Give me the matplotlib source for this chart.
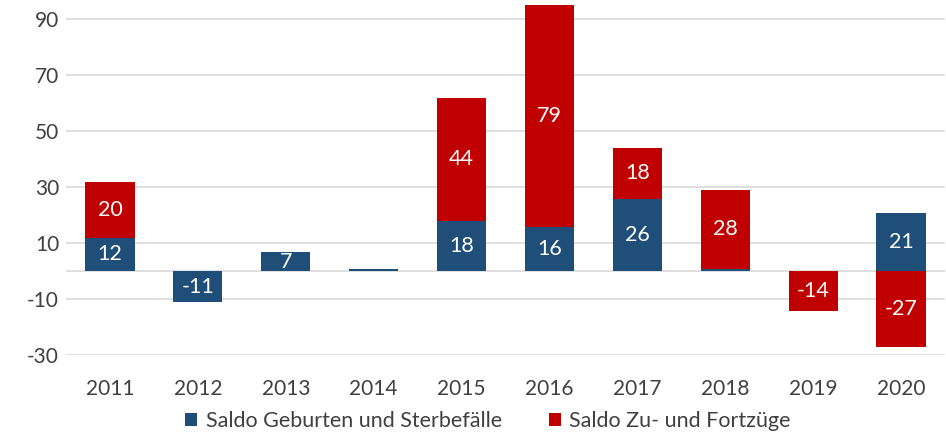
import matplotlib
matplotlib.use("Agg")
import matplotlib.pyplot as plt
import numpy as np

years = ['2011', '2012', '2013', '2014', '2015', '2016', '2017', '2018', '2019', '2020']
natural = [12, -11, 7, 1, 18, 16, 26, 1, 0, 21]        # Saldo Geburten und Sterbefälle
migration = [20, 0, 0, 0, 44, 79, 18, 28, -14, -27]    # Saldo Zu- und Fortzüge
yticks = [-30, -10, 10, 30, 50, 70, 90]

label_names = ['Saldo Geburten und Sterbefälle', 'Saldo Zu- und Fortzüge']
BLUE = '#1F4E79'
RED = '#C00000'
GRID = '#D9D9D9'
TXT = '#404040'

plt.rcParams['font.family'] = ['Lato', 'DejaVu Sans']

fig = plt.figure(figsize=(9.46, 4.34), dpi=100)
ax = fig.add_axes([66/946, 1 - 355.3/434, (945-66)/946, (355.3-2.5)/434])

x = np.arange(len(years))
nat = np.array(natural, dtype=float)
mig = np.array(migration, dtype=float)
mig_bottom = np.where(np.sign(mig) == np.sign(nat), nat, 0.0)

w = 0.56
ax.bar(x, nat, width=w, color=BLUE, label=label_names[0], zorder=3)
ax.bar(x, mig, width=w, bottom=mig_bottom, color=RED, label=label_names[1], zorder=3)

for i in range(len(years)):
    if abs(nat[i]) >= 5:
        ax.text(x[i], nat[i] / 2, f"{int(nat[i])}", ha='center', va='center',
                color='white', fontsize=15.5, zorder=4)
    if abs(mig[i]) >= 5:
        ax.text(x[i], mig_bottom[i] + mig[i] / 2, f"{int(mig[i])}", ha='center', va='center',
                color='white', fontsize=15.5, zorder=4)

ax.set_xlim(-0.5, len(years) - 0.5)
ax.set_ylim(-30, 96)
ax.set_yticks(yticks)
ax.set_yticklabels([str(t) for t in yticks])
ax.set_xticks(x)
ax.set_xticklabels(years)
ax.yaxis.grid(True, color=GRID, linewidth=1.2, zorder=0)
ax.axhline(0, color=GRID, linewidth=1.2, zorder=1)
for s in ax.spines.values():
    s.set_visible(False)
ax.tick_params(axis='both', length=0, labelsize=15, colors=TXT)
ax.tick_params(axis='y', pad=5)
ax.tick_params(axis='x', pad=17)

fig.legend(loc='center', bbox_to_anchor=(488/946, 1 - 421/434), ncol=2, frameon=False,
           fontsize=15.5, handlelength=0.55, handleheight=0.55, handletextpad=0.4,
           columnspacing=2.2, labelcolor=TXT)

fig.savefig('out.png', dpi=100)
